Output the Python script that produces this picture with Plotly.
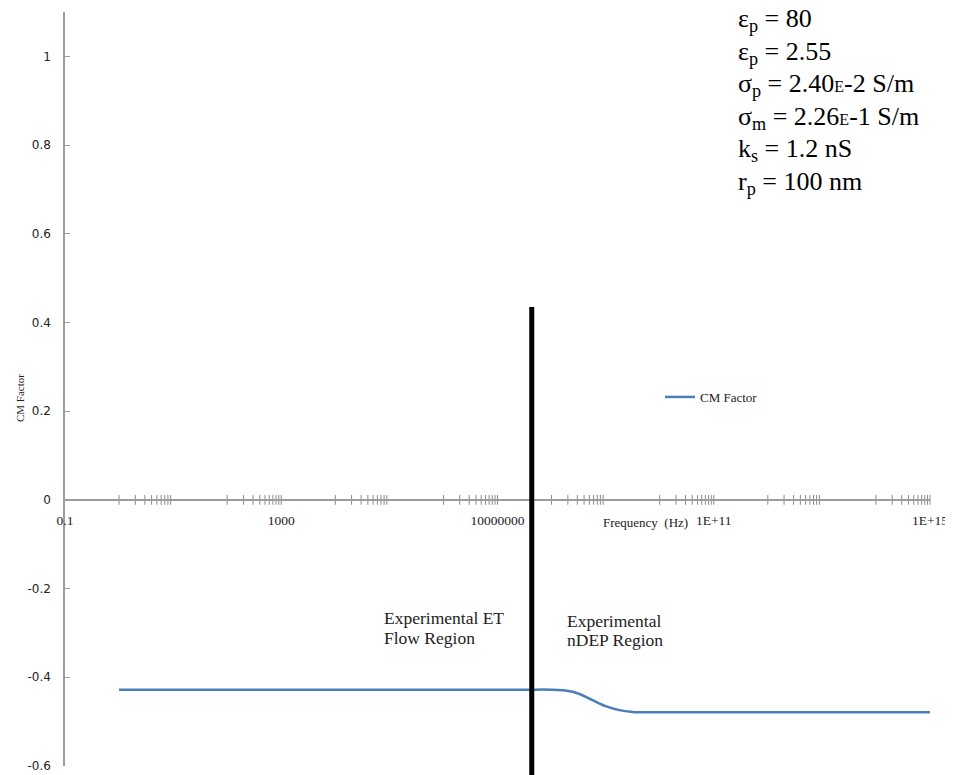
import plotly.graph_objects as go

# ---- data ----
FREQ_HZ = [1e0, 1e1, 1e2, 1e3, 1e4, 1e5, 1e6, 1e7, 3.2e7, 1e8, 1.8e8, 3.2e8,
           5.6e8, 1e9, 1.8e9, 3.2e9, 5.6e9, 1e10, 3.2e10, 1e11, 1e12, 1e13,
           1e14, 1e15]
CM_FACTOR = [-0.428, -0.428, -0.428, -0.428, -0.428, -0.428, -0.428, -0.428,
             -0.428, -0.428, -0.430, -0.437, -0.451, -0.465, -0.474, -0.478,
             -0.479, -0.479, -0.479, -0.479, -0.479, -0.479, -0.479, -0.479]

X_TICK_VALS = [0.1, 1000, 1e7, 1e11, 1e15]
X_TICK_TEXT = ["0.1", "1000", "10000000", "1E+11", "1E+15"]
Y_TICK_VALS = [-0.6, -0.4, -0.2, 0, 0.2, 0.4, 0.6, 0.8, 1]
Y_TICK_TEXT = ["-0.6", "-0.4", "-0.2", "0", "0.2", "0.4", "0.6", "0.8", "1"]
MINOR_DECADES = [1e0, 1e2, 1e4, 1e6, 1e8, 1e10, 1e12, 1e14]
MINOR_MULTS = [1, 2, 3, 4, 5, 6, 7, 8, 9]
BOUNDARY_HZ = 4.3e7

PARAM_LINES = [
    "ε<sub>p</sub> = 80",
    "ε<sub>p</sub> = 2.55",
    "σ<sub>p</sub> = 2.40<span style='font-size:16px'>E</span>-2 S/m",
    "σ<sub>m</sub> = 2.26<span style='font-size:16px'>E</span>-1 S/m",
    "k<sub>s</sub> = 1.2 nS",
    "r<sub>p</sub> = 100 nm",
]

Y_MIN, Y_MAX = -0.6, 1.1
AXIS_GREY = "#9c9c9c"
SERIF = "Liberation Serif, Times New Roman, serif"

# page body has an 8px default margin: figure occupies (8,8)-(953,775)
OFF = 8
PL, PR, PT, PB = 65, 930, 12, 766        # plot area in screen pixels
PW, PH = PR - PL, PB - PT


def px(xs):
    return (xs - PL) / PW


def py(ys):
    return (PB - ys) / PH


tick_positions = [d * m for d in MINOR_DECADES for m in MINOR_MULTS] + X_TICK_VALS[1:]

fig = go.Figure()

fig.add_trace(go.Scatter(
    x=tick_positions, y=[0] * len(tick_positions), mode="markers",
    marker=dict(symbol="line-ns", size=7, line=dict(width=1, color="#8a8a8a")),
    showlegend=False, hoverinfo="skip", cliponaxis=False))

fig.add_trace(go.Scatter(
    x=FREQ_HZ, y=CM_FACTOR, mode="lines", name="CM Factor",
    line=dict(color="#4a7ebb", width=2.5, shape="spline")))

fig.add_shape(type="line", xref="x", yref="paper",
              x0=BOUNDARY_HZ, x1=BOUNDARY_HZ, y0=py(780), y1=py(307),
              line=dict(color="black", width=5))

fig.update_layout(
    width=953 - OFF, height=775 - OFF,
    margin=dict(l=PL - OFF, r=953 - PR, t=PT - OFF, b=775 - PB, autoexpand=False),
    paper_bgcolor="white", plot_bgcolor="white",
    showlegend=True,
    legend=dict(x=px(660), y=py(397), xanchor="left", yanchor="middle",
                font=dict(family=SERIF, size=13, color="#222"),
                bgcolor="rgba(0,0,0,0)", itemwidth=30),
    xaxis=dict(type="log", range=[-1, 15], tickvals=X_TICK_VALS,
               ticktext=X_TICK_TEXT, showgrid=False, zeroline=False,
               showline=True, linecolor=AXIS_GREY, linewidth=1.5,
               ticks="", anchor="free", automargin=False,
               position=(0 - Y_MIN) / (Y_MAX - Y_MIN),
               tickfont=dict(family=SERIF, size=13.5, color="#222"),
               ticklabelstandoff=8, ticklabeloverflow="allow"),
    yaxis=dict(range=[Y_MIN, Y_MAX], tickvals=Y_TICK_VALS, ticktext=Y_TICK_TEXT,
               showgrid=False, zeroline=False, showline=True, automargin=False,
               linecolor=AXIS_GREY, linewidth=1.5, ticks="inside", ticklen=5,
               tickcolor=AXIS_GREY,
               tickfont=dict(family="DejaVu Sans", size=12, color="#222"),
               ticklabelstandoff=10),
)

ann = []
# parameter block
for i, t in enumerate(PARAM_LINES):
    ann.append(dict(text=t, xref="paper", yref="paper",
                    x=px(736), y=py(20 + 32.6 * i),
                    xanchor="left", yanchor="middle", showarrow=False,
                    font=dict(family=SERIF, size=26, color="black")))
# region labels
for txt, xp, yp in [("Experimental ET", 382, 618), ("Flow Region", 382, 638),
                    ("Experimental", 565, 621), ("nDEP Region", 565, 640)]:
    ann.append(dict(text=txt, xref="paper", yref="paper",
                    x=px(xp), y=py(yp),
                    xanchor="left", yanchor="middle", showarrow=False,
                    font=dict(family=SERIF, size=17.5, color="#222")))
# axis titles
ann.append(dict(text="CM Factor", xref="paper", yref="paper",
                x=px(20), y=py(398), textangle=-90,
                xanchor="center", yanchor="middle", showarrow=False,
                font=dict(family=SERIF, size=11, color="#222")))
ann.append(dict(text="Frequency  (Hz)", xref="paper", yref="paper",
                x=px(690), y=py(522),
                xanchor="right", yanchor="middle", showarrow=False,
                font=dict(family=SERIF, size=13, color="#222")))
fig.update_layout(annotations=ann)

fig.write_html("out.html")
